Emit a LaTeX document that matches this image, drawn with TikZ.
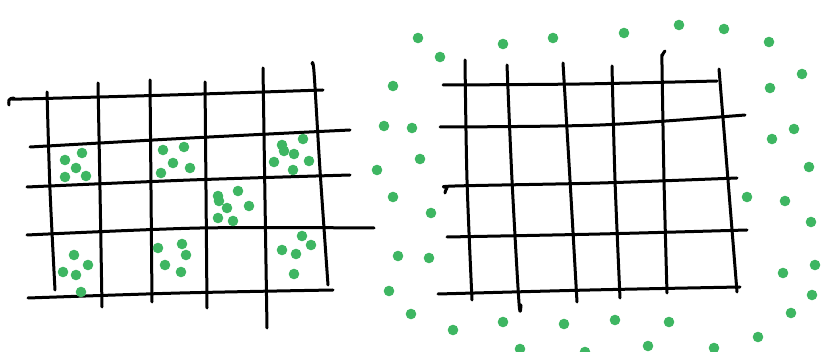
\documentclass[tikz,border=0pt]{standalone}
\usepackage{tikz}
\definecolor{dotgreen}{RGB}{62,182,98}
\tikzset{
  ink/.style={line width=3pt, line cap=round, line join=round, black},
  gdot/.style={fill=dotgreen, draw=none},
}
\newcommand{\gd}[2]{\fill[gdot] (#1,#2) circle (5.3);}
\begin{document}
\begin{tikzpicture}[x=1pt,y=-1pt]
\useasboundingbox (0,0) rectangle (822,352);
% ---------- left grid ----------
\draw[ink] plot[smooth] coordinates {(9,105) (9,100) (14,98) (22,99) (170,95) (323,90)};
\draw[ink] plot[smooth] coordinates {(30,147) (190,138) (350,130)};
\draw[ink] plot[smooth] coordinates {(27,187) (190,180) (350,175)};
\draw[ink] plot[smooth] coordinates {(27,235) (200,228) (374,228)};
\draw[ink] plot[smooth] coordinates {(28,298) (180,293) (333,290)};
\draw[ink] plot[smooth] coordinates {(47,92) (50,190) (55,290)};
\draw[ink] plot[smooth] coordinates {(98,83) (100,190) (102,307)};
\draw[ink] plot[smooth] coordinates {(150,80) (151,190) (152,302)};
\draw[ink] plot[smooth] coordinates {(205,82) (206,190) (207,308)};
\draw[ink] plot[smooth] coordinates {(263,68) (265,200) (267,328)};
\draw[ink] plot[smooth] coordinates {(312,64) (314,72) (320,170) (328,285)};
% dots in cells
\gd{65}{160}\gd{82}{153}\gd{76}{168}\gd{65}{177}\gd{86}{176}
\gd{163}{150}\gd{184}{147}\gd{173}{163}\gd{190}{168}\gd{161}{173}
\gd{282}{145}\gd{284}{151}\gd{303}{139}\gd{294}{154}\gd{274}{162}\gd{309}{161}\gd{293}{170}
\gd{218}{196}\gd{219}{201}\gd{238}{191}\gd{227}{208}\gd{249}{206}\gd{218}{218}\gd{233}{221}
\gd{74}{255}\gd{88}{265}\gd{63}{272}\gd{76}{275}\gd{81}{292}
\gd{158}{248}\gd{182}{244}\gd{186}{255}\gd{165}{265}\gd{181}{272}
\gd{302}{236}\gd{311}{245}\gd{282}{250}\gd{296}{254}\gd{294}{274}
% ---------- right grid ----------
\draw[ink] plot[smooth] coordinates {(443,85) (580,84) (717,81)};
\draw[ink] plot[smooth] coordinates {(440,127) (600,125) (745,115)};
\draw[ink] plot[smooth] coordinates {(445,193) (447,188) (455,186) (600,183) (737,178)};
\draw[ink] plot[smooth] coordinates {(447,237) (600,234) (747,230)};
\draw[ink] plot[smooth] coordinates {(438,294) (590,290) (740,287)};
\draw[ink] plot[smooth] coordinates {(465,60) (467,180) (472,300)};
\draw[ink] plot[smooth] coordinates {(507,65) (512,180) (519,303) (521,305)};
\draw[ink] plot[smooth] coordinates {(563,63) (570,180) (577,302)};
\draw[ink] plot[smooth] coordinates {(612,66) (615,180) (620,298)};
\draw[ink] plot[smooth] coordinates {(665,51) (662,56) (662,65) (664,180) (667,293)};
\draw[ink] plot[smooth] coordinates {(719,69) (728,180) (737,292)};
% dots around
\gd{418}{38}\gd{440}{57}\gd{503}{44}\gd{553}{38}\gd{624}{33}\gd{679}{25}\gd{724}{29}
\gd{769}{42}\gd{802}{74}\gd{770}{88}\gd{393}{86}\gd{384}{126}\gd{412}{128}\gd{420}{159}
\gd{377}{170}\gd{393}{197}\gd{431}{213}\gd{398}{256}\gd{429}{258}\gd{389}{291}\gd{411}{314}
\gd{453}{330}\gd{503}{322}\gd{564}{324}\gd{615}{320}\gd{669}{322}\gd{758}{337}\gd{791}{313}
\gd{812}{295}\gd{815}{265}\gd{783}{273}\gd{811}{222}\gd{785}{201}\gd{747}{197}\gd{809}{167}
\gd{772}{139}\gd{794}{129}\gd{520}{349}\gd{585}{352}\gd{648}{346}\gd{714}{348}
\end{tikzpicture}
\end{document}
